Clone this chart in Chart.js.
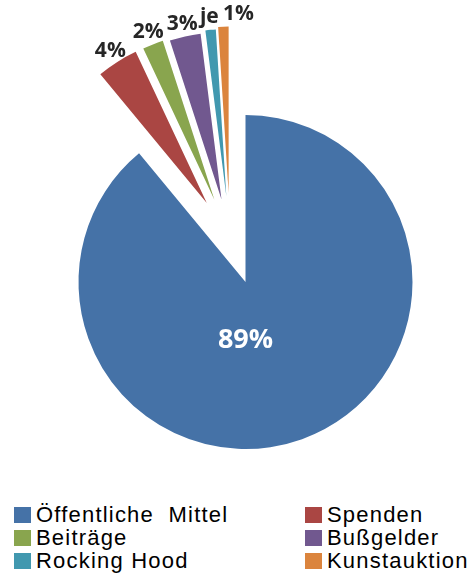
<!DOCTYPE html>
<html>
<head>
<meta charset="utf-8">
<script src="https://cdn.jsdelivr.net/npm/chart.js@4.4.1/dist/chart.umd.min.js"></script>
<style>
body { margin: 0; background: #fff; }
#wrap { position: relative; width: 474px; height: 500px; }
#legend {
    position: absolute; left: 14px; top: 507px;
    display: grid; grid-template-columns: 291px auto; row-gap: 7px;
    font: 22px "Liberation Sans", Arial, sans-serif; letter-spacing: 1.2px; color: #000;
}
.item { display: flex; align-items: center; height: 16px; line-height: 16px; white-space: pre; }
.box { width: 17px; height: 16px; margin-right: 5px; flex: none; }
</style>
</head>
<body>
<div id="wrap"><canvas id="pieChart"></canvas></div>
<div id="legend"></div>
<script>
const categories = ['Öffentliche  Mittel', 'Spenden', 'Beiträge', 'Bußgelder', 'Rocking Hood', 'Kunstauktion'];
const shares = [89, 4, 2, 3, 1, 1];
const shareLabels = ['89%', '4%', '2%', '3%', 'je', '1%'];
const colors = ['#4572A7', '#AA4643', '#89A54E', '#71588F', '#4198AF', '#DB843D'];
const explodeBy = [0, 88, 88, 86, 88, 90];
const labelAlign = ['center', 'center', 'center', 'center', 'center', 'left'];

// pulled-out slices move half-way between their own middle and the middle of the pulled-out group
function explodeDir(arcs, i) {
    const out = arcs.filter((a, k) => explodeBy[k] > 0);
    const groupMid = (out[0].startAngle + out[out.length - 1].endAngle) / 2;
    const mid = (arcs[i].startAngle + arcs[i].endAngle) / 2;
    return explodeBy[i] > 0 ? (mid + groupMid) / 2 : mid;
}

const explode = {
    id: 'explode',
    beforeDatasetDraw(chart, args) {
        const ctx = chart.ctx;
        const arcs = args.meta.data;
        arcs.forEach((arc, i) => {
            const dir = explodeDir(arcs, i);
            ctx.save();
            ctx.translate(Math.cos(dir) * explodeBy[i], Math.sin(dir) * explodeBy[i]);
            arc.draw(ctx);
            ctx.restore();
        });
        return false;
    }
};

// labels on / above the slices
const sliceLabels = {
    id: 'sliceLabels',
    afterDatasetsDraw(chart) {
        const ctx = chart.ctx;
        const arcs = chart.getDatasetMeta(0).data;
        arcs.forEach((arc, i) => {
            const p = arc.getProps(['x', 'y', 'startAngle', 'endAngle', 'outerRadius'], true);
            const mid = (p.startAngle + p.endAngle) / 2;
            ctx.save();
            ctx.textAlign = labelAlign[i];
            ctx.textBaseline = 'middle';
            if (i === 0) {
                ctx.fillStyle = '#fff';
                ctx.font = 'bold 27px "Open Sans"';
                ctx.fillText(shareLabels[i], p.x, p.y + p.outerRadius * 0.35);
            } else {
                const dir = explodeDir(arcs, i);
                const ax = p.x + Math.cos(dir) * explodeBy[i];
                const ay = p.y + Math.sin(dir) * explodeBy[i];
                const d = p.outerRadius + 13;
                ctx.fillStyle = '#262626';
                ctx.font = 'bold 21px "Open Sans"';
                ctx.fillText(shareLabels[i], ax + Math.cos(mid) * d, ay + Math.sin(mid) * d);
            }
            ctx.restore();
        });
    }
};

const ctxPie = document.getElementById('pieChart').getContext('2d');
new Chart(ctxPie, {
    type: 'pie',
    data: {
        labels: categories,
        datasets: [{
            data: shares,
            backgroundColor: colors,
            borderWidth: 0
        }]
    },
    options: {
        responsive: true,
        maintainAspectRatio: false,
        animation: false,
        radius: 167,
        layout: { padding: { left: 17, top: 64 } },
        plugins: {
            legend: { display: false },
            tooltip: { enabled: false }
        }
    },
    plugins: [explode, sliceLabels]
});

// two-column legend
const legend = document.getElementById('legend');
categories.forEach((name, i) => {
    const item = document.createElement('div');
    item.className = 'item';
    item.innerHTML = '<span class="box" style="background:' + colors[i] + '"></span><span>' + name + '</span>';
    legend.appendChild(item);
});
</script>
</body>
</html>
